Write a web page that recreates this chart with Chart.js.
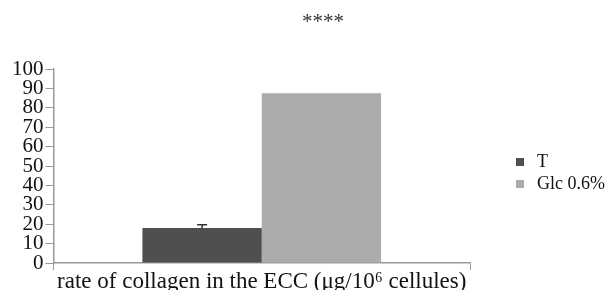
<!DOCTYPE html>
<html>
<script src="https://cdn.jsdelivr.net/npm/chart.js"></script>
<body style="margin:0;background:#fff">
<div style="width:607px;height:290px"><canvas id="myChart"></canvas></div>
<script>
var categories = ["rate of collagen in the ECC (\u03bcg/10\u2076 cellules)"];
var seriesNames = ["T", "Glc 0.6%"];
var valuesT = [18];
var valuesGlc = [87.5];
var errorT = [1.7];
var yTicks = [0, 10, 20, 30, 40, 50, 60, 70, 80, 90, 100];
var signif = "****";

var serif = "'Liberation Serif', 'Times New Roman', serif";

// error bar, legend and significance stars drawn on the canvas
var extras = {
  id: "extras",
  afterDatasetsDraw: function(chart) {
    var ctx = chart.ctx;
    var y = chart.scales.y;
    var bar = chart.getDatasetMeta(0).data[0];
    var top = y.getPixelForValue(valuesT[0] + errorT[0]);
    ctx.save();
    ctx.strokeStyle = "#333";
    ctx.lineWidth = 1.5;
    ctx.beginPath();
    ctx.moveTo(bar.x, bar.y);
    ctx.lineTo(bar.x, top);
    ctx.moveTo(bar.x - 5, top);
    ctx.lineTo(bar.x + 5, top);
    ctx.stroke();

    // legend
    ctx.font = "18px " + serif;
    ctx.textBaseline = "middle";
    chart.data.datasets.forEach(function(ds, i) {
      var cy = 162 + i * 22;
      ctx.fillStyle = ds.backgroundColor;
      ctx.fillRect(516, cy - 4, 8, 8);
      ctx.fillStyle = "#111";
      ctx.fillText(ds.label, 537, cy);
    });

    // stars
    ctx.font = "21px " + serif;
    ctx.textAlign = "center";
    ctx.fillStyle = "#333";
    ctx.fillText(signif, 323, 22);
    ctx.restore();
  }
};

new Chart("myChart", {
  type: "bar",
  data: {
    labels: categories,
    datasets: [{
      label: seriesNames[0],
      data: valuesT,
      backgroundColor: "#4f4f4f",
      categoryPercentage: 0.573,
      barPercentage: 1
    }, {
      label: seriesNames[1],
      data: valuesGlc,
      backgroundColor: "#acacac",
      categoryPercentage: 0.573,
      barPercentage: 1
    }]
  },
  options: {
    responsive: true,
    maintainAspectRatio: false,
    animation: false,
    layout: {padding: {top: 69, left: 10, right: 137, bottom: -3}},
    plugins: {
      legend: {display: false},
      tooltip: {enabled: false}
    },
    scales: {
      x: {
        grid: {display: true, drawOnChartArea: false, offset: true, tickLength: 7, color: "#999"},
        border: {color: "#999", width: 1.5},
        ticks: {color: "#111", padding: 0, font: {family: serif, size: 23, lineHeight: 1.0}}
      },
      y: {
        min: 0,
        max: 100,
        afterBuildTicks: function(s) { s.ticks = yTicks.map(function(v) { return {value: v}; }); },
        grid: {drawOnChartArea: false, tickLength: 8, color: "#999"},
        border: {color: "#999", width: 1.5},
        ticks: {color: "#111", padding: 2, autoSkip: false, font: {family: serif, size: 21, lineHeight: 1.0}}
      }
    }
  },
  plugins: [extras]
});
</script>
</body>
</html>
